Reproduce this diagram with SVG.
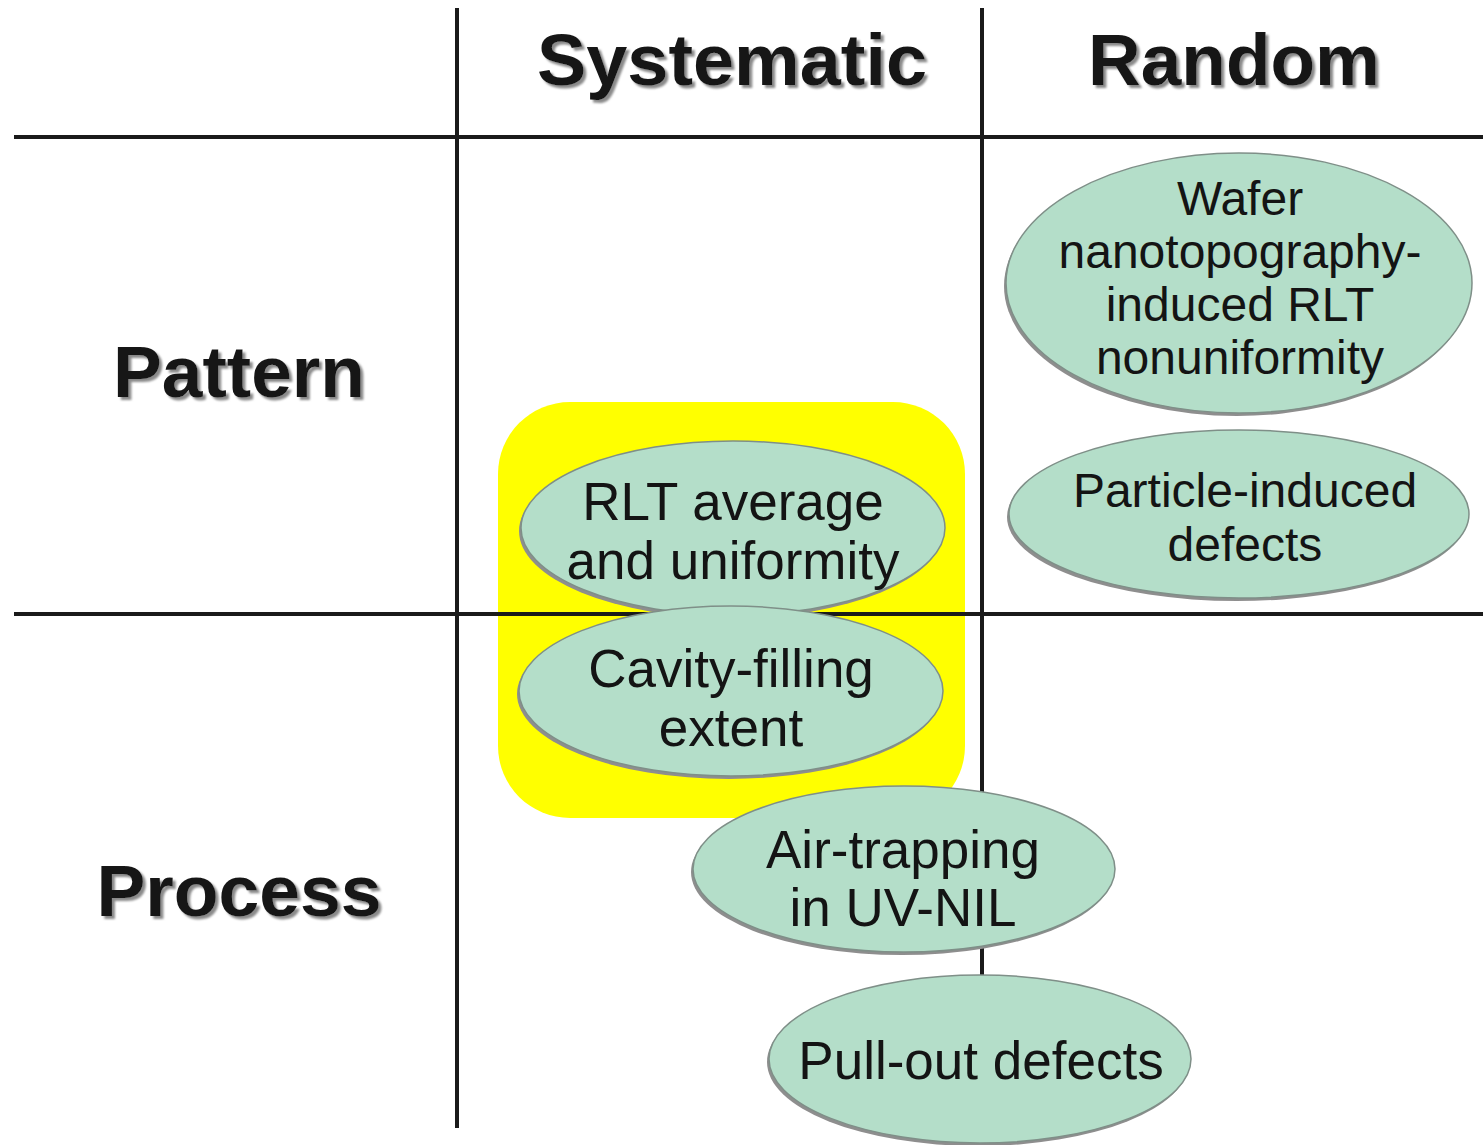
<svg xmlns="http://www.w3.org/2000/svg" width="1483" height="1145" viewBox="0 0 1483 1145">
<defs>
<filter id="tsh" x="-10%" y="-20%" width="120%" height="150%">
<feDropShadow dx="3" dy="3" stdDeviation="0.8" flood-color="#8a8a8a" flood-opacity="1"/>
</filter>
</defs>
<style>
.grid{stroke:#1a1a1a;stroke-width:4;fill:none}
.hdr{font-family:"Liberation Sans",Arial,sans-serif;font-weight:bold;font-size:72px;fill:#141414;text-anchor:middle;filter:url(#tsh)}
.ell{fill:#b4dec9;stroke:#7f8f88;stroke-width:1.5}
.esh{fill:#8e8e8e}
.lbl{font-family:"Liberation Sans",Arial,sans-serif;font-size:53px;fill:#141414;text-anchor:middle}
.lbs{font-family:"Liberation Sans",Arial,sans-serif;font-size:48px;fill:#141414;text-anchor:middle}
</style>
<rect width="1483" height="1145" fill="#ffffff"/>
<rect id="highlight" x="498" y="402" width="467" height="416" rx="72" ry="72" fill="#ffff00"/>
<g id="connectors">
<line class="grid" x1="457" y1="8" x2="457" y2="1128"/>
<line class="grid" x1="982" y1="8" x2="982" y2="1120"/>
<line class="grid" x1="14" y1="137" x2="1483" y2="137"/>
<line class="grid" x1="14" y1="614" x2="1483" y2="614"/>
</g>
<g id="hdr-systematic"><text class="hdr" x="732" y="85" textLength="390" lengthAdjust="spacingAndGlyphs">Systematic</text></g>
<g id="hdr-random"><text class="hdr" x="1234" y="85" textLength="292" lengthAdjust="spacingAndGlyphs">Random</text></g>
<g id="hdr-pattern"><text class="hdr" x="239" y="397" textLength="252" lengthAdjust="spacingAndGlyphs">Pattern</text></g>
<g id="hdr-process"><text class="hdr" x="239" y="916" textLength="285" lengthAdjust="spacingAndGlyphs">Process</text></g>
<g id="node-wafer">
<ellipse class="esh" cx="1237" cy="286" rx="233" ry="130"/>
<ellipse class="ell" cx="1239" cy="283" rx="233" ry="130"/>
<text class="lbs" x="1240" y="215">Wafer</text>
<text class="lbs" x="1240" y="268">nanotopography-</text>
<text class="lbs" x="1240" y="321">induced RLT</text>
<text class="lbs" x="1240" y="374">nonuniformity</text>
</g>
<g id="node-particle">
<ellipse class="esh" cx="1237" cy="517" rx="230" ry="84"/>
<ellipse class="ell" cx="1239" cy="514" rx="230" ry="84"/>
<text class="lbs" x="1245" y="507">Particle-induced</text>
<text class="lbs" x="1245" y="561">defects</text>
</g>
<g id="node-rlt">
<ellipse class="esh" cx="731" cy="531" rx="212" ry="87"/>
<ellipse class="ell" cx="733" cy="528" rx="212" ry="87"/>
<text class="lbl" x="733" y="520">RLT average</text>
<text class="lbl" x="733" y="579">and uniformity</text>
</g>
<g id="node-cavity">
<ellipse class="esh" cx="729" cy="694" rx="212" ry="85"/>
<ellipse class="ell" cx="731" cy="691" rx="212" ry="85"/>
<text class="lbl" x="731" y="687">Cavity-filling</text>
<text class="lbl" x="731" y="746">extent</text>
</g>
<g id="node-air">
<ellipse class="esh" cx="902" cy="872" rx="211" ry="83"/>
<ellipse class="ell" cx="904" cy="869" rx="211" ry="83"/>
<text class="lbl" x="903" y="868">Air-trapping</text>
<text class="lbl" x="903" y="926">in UV-NIL</text>
</g>
<g id="node-pullout">
<ellipse class="esh" cx="978" cy="1062" rx="211" ry="84"/>
<ellipse class="ell" cx="980" cy="1059" rx="211" ry="84"/>
<text class="lbl" x="981" y="1079">Pull-out defects</text>
</g>
</svg>
